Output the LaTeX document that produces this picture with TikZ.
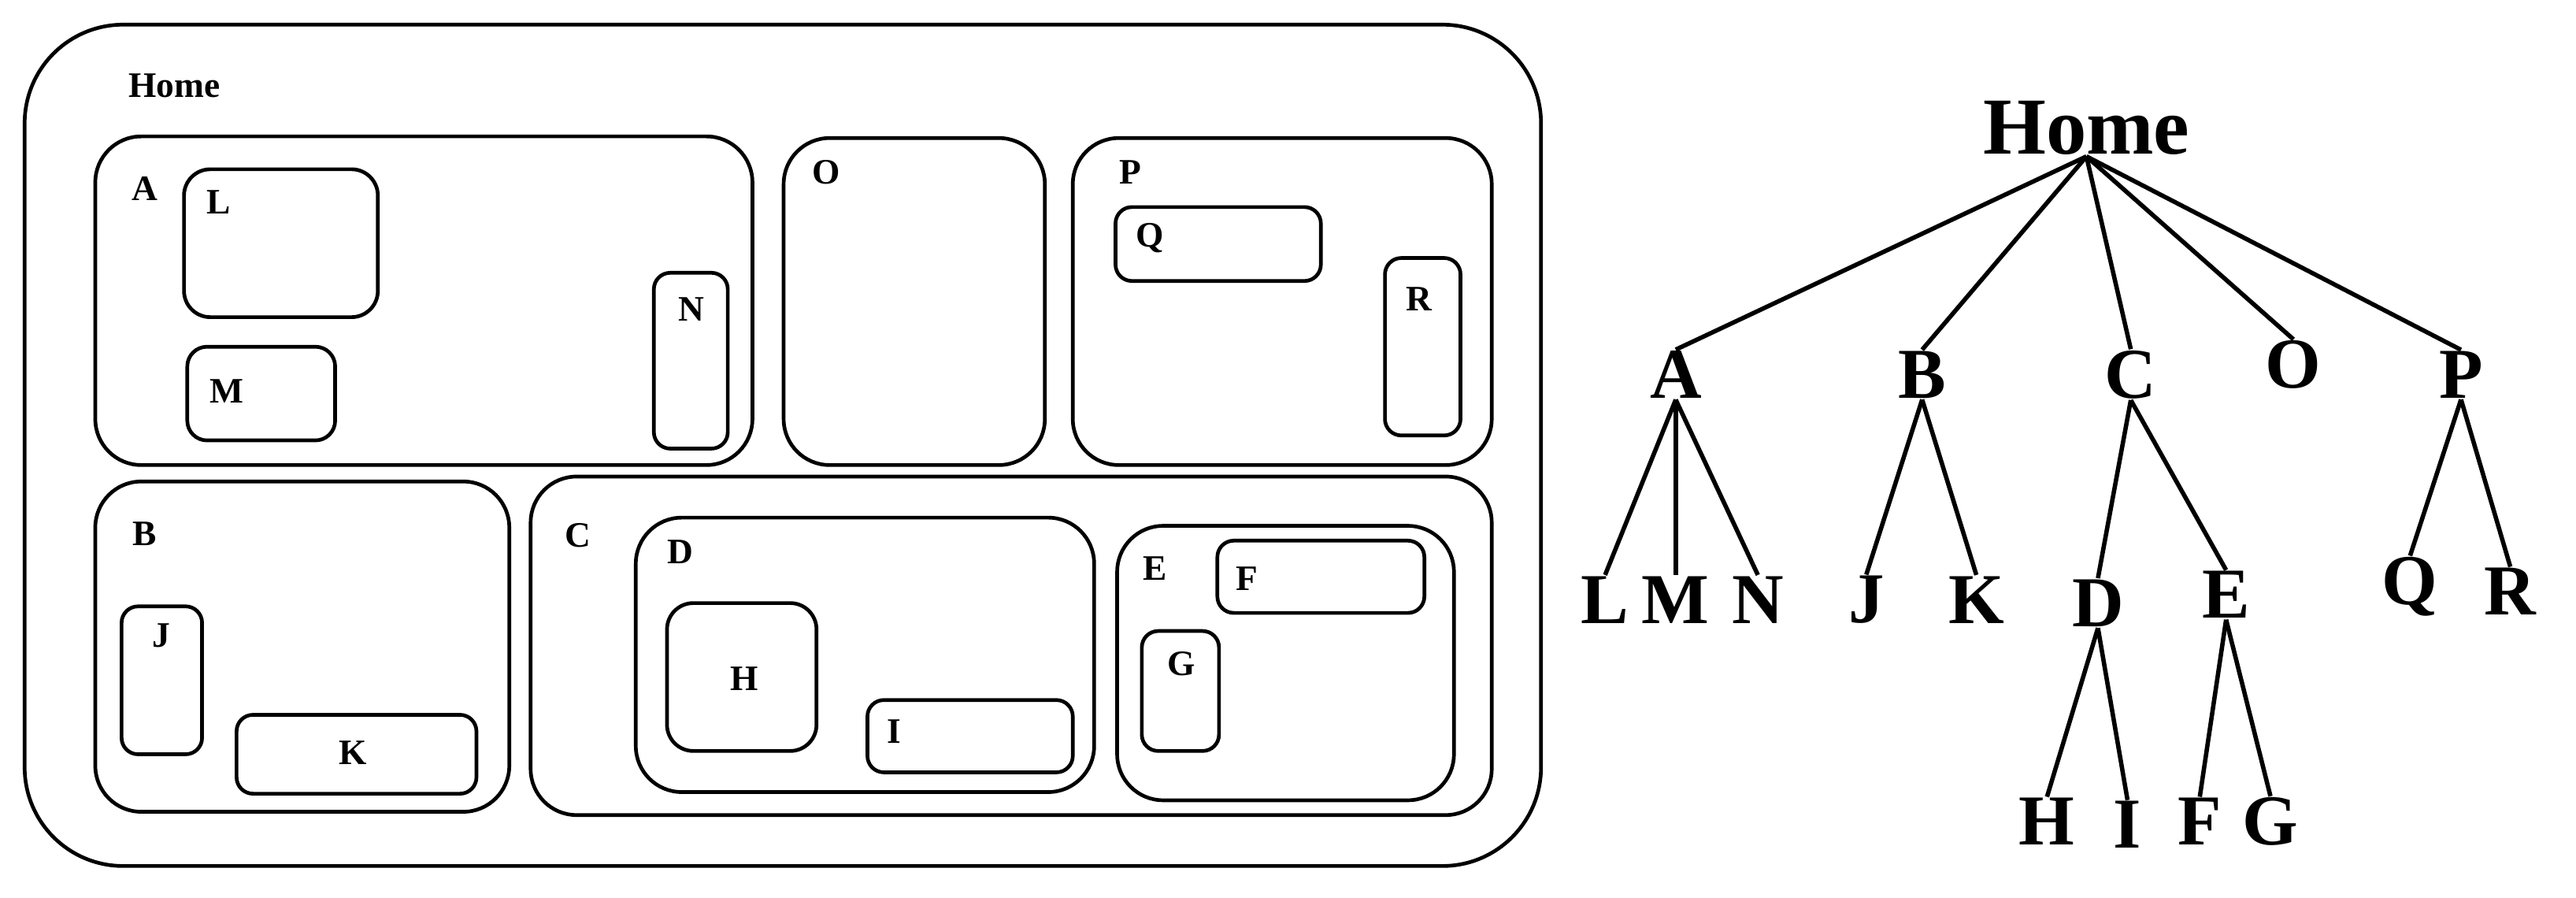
\documentclass[tikz,border=0pt]{standalone}
\usepackage{fontspec}
\setmainfont{Liberation Serif}
\begin{document}
\begin{tikzpicture}[x=0.5mm,y=-0.5mm,
  bx/.style={draw,line width=3.2pt,rounded corners=#1},bx/.default=14mm,
  lb/.style={font=\fontsize{31}{31}\selectfont\bfseries,inner sep=0},
  tl/.style={font=\fontsize{62}{62}\selectfont\bfseries,inner sep=1pt},
  tr/.style={line width=3.8pt}]
\useasboundingbox (0,0) rectangle (1568,546);
% containers
\draw[bx=30mm] (15,15) rectangle (938,527);
\node[lb] (lHome) at (106,52) {Home};
\draw[bx] (58,83) rectangle (458,283); \node[lb] (lA) at (88,115) {A};
\draw[bx=8mm] (112,103) rectangle (230,193); \node[lb] (lL) at (133,123) {L};
\draw[bx=6mm] (114,211) rectangle (204,268); \node[lb] (lM) at (138,238) {M};
\draw[bx=5mm] (398,166) rectangle (443,273); \node[lb] (lN) at (421,188) {N};
\draw[bx] (477,84) rectangle (636,283); \node[lb] (lO) at (503,105) {O};
\draw[bx] (653,84) rectangle (908,283); \node[lb] (lP) at (688,105) {P};
\draw[bx=5mm] (679,126) rectangle (804,171); \node[lb] (lQ) at (700,145) {Q};
\draw[bx=5mm] (843,157) rectangle (889,265); \node[lb] (lR) at (864,182) {R};
\draw[bx] (58,293) rectangle (310,494); \node[lb] (lB) at (88,325) {B};
\draw[bx=5mm] (74,369) rectangle (123,459); \node[lb] (lJ) at (98,387) {J};
\draw[bx=5mm] (144,435) rectangle (290,483); \node[lb] (lK) at (215,458) {K};
\draw[bx] (323,290) rectangle (908,496); \node[lb] (lC) at (352,326) {C};
\draw[bx] (387,315) rectangle (666,482); \node[lb] (lD) at (414,336) {D};
\draw[bx=8mm] (406,367) rectangle (497,457); \node[lb] (lH) at (453,413) {H};
\draw[bx=5mm] (528,426) rectangle (653,470); \node[lb] (lI) at (544,445) {I};
\draw[bx] (680,320) rectangle (885,487); \node[lb] (lE) at (703,346) {E};
\draw[bx=5mm] (741,329) rectangle (867,373); \node[lb] (lF) at (759,352) {F};
\draw[bx=5mm] (695,384) rectangle (742,457); \node[lb] (lG) at (719,404) {G};
% tree
\node[tl,font=\fontsize{70}{70}\selectfont\bfseries] (Home) at (1270,78) {Home};
\node[tl] (A) at (1020,228) {A};
\node[tl] (B) at (1170,228) {B};
\node[tl] (C) at (1297,228) {C};
\node[tl] (O) at (1396,222) {O};
\node[tl] (P) at (1498,228) {P};
\node[tl] (L) at (977,365) {L};
\node[tl] (M) at (1020,365) {M};
\node[tl] (N) at (1070,365) {N};
\node[tl] (J) at (1136,365) {J};
\node[tl] (K) at (1203,365) {K};
\node[tl] (D) at (1277,367) {D};
\node[tl] (E) at (1355,362) {E};
\node[tl] (H) at (1246,500) {H};
\node[tl] (I) at (1295,502) {I};
\node[tl] (F) at (1339,500) {F};
\node[tl] (G) at (1382,500) {G};
\node[tl] (Q) at (1467,357) {Q};
\node[tl] (R) at (1528,360) {R};
\foreach \c in {A,B,C,O,P} \draw[tr] (Home.south) -- (\c.north);
\foreach \c in {L,M,N} \draw[tr] (A.south) -- (\c.north);
\foreach \c in {J,K} \draw[tr] (B.south) -- (\c.north);
\foreach \c in {D,E} \draw[tr] (C.south) -- (\c.north);
\foreach \c in {H,I} \draw[tr] (D.south) -- (\c.north);
\foreach \c in {F,G} \draw[tr] (E.south) -- (\c.north);
\foreach \c in {Q,R} \draw[tr] (P.south) -- (\c.north);
\end{tikzpicture}
\end{document}
